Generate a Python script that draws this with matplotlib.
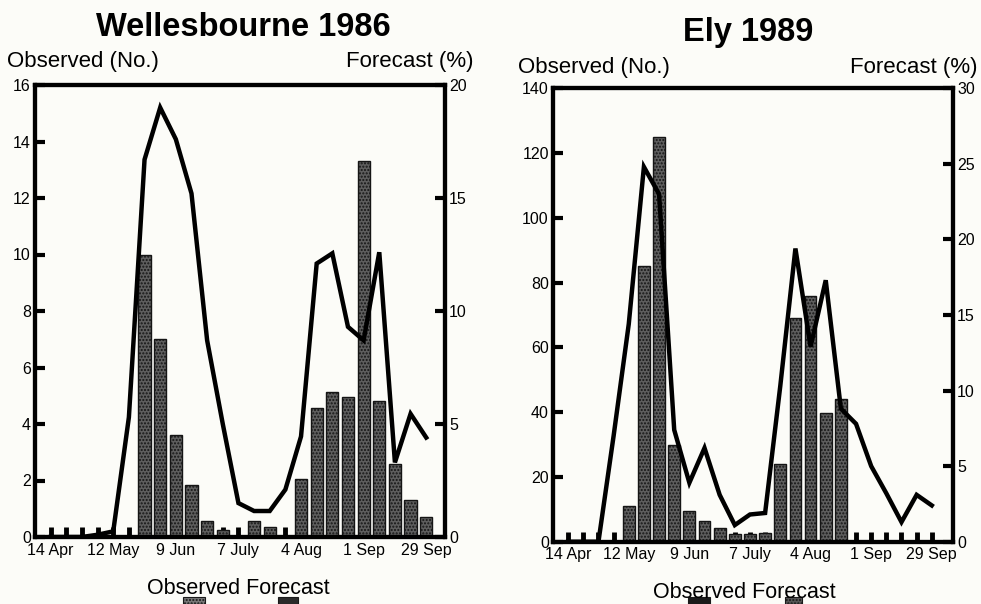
import numpy as np
import matplotlib
matplotlib.use("Agg")
import matplotlib.pyplot as plt
from matplotlib.patches import Rectangle

# weekly dates, 14 Apr .. 29 Sep (25 weeks)
weeks = np.arange(25)
tick_pos = [0, 4, 8, 12, 16, 20, 24]
tick_labels = ["14 Apr", "12 May", "9 Jun", "7 July", "4 Aug", "1 Sep", "29 Sep"]

# Wellesbourne 1986
well_observed = [0, 0, 0, 0, 0, 0, 10, 7, 3.6, 1.85, 0.55, 0.26, 0, 0.55, 0.35,
                 0, 2.05, 4.55, 5.15, 4.95, 13.3, 4.8, 2.6, 1.3, 0.7]
well_forecast = [0, 0, 0, 0.1, 0.25, 5.3, 16.7, 19.0, 17.6, 15.2, 8.7, 5.0, 1.5,
                 1.15, 1.15, 2.1, 4.45, 12.1, 12.55, 9.3, 8.7, 12.6, 3.3, 5.45, 4.4]

# Ely 1989
ely_observed = [0, 0, 0, 0, 11, 85, 125, 30, 9.6, 6.4, 4.3, 2.4, 2.4, 2.6, 24,
                69, 76, 39.6, 44, 0, 0, 0, 0, 0, 0]
ely_forecast = [0, 0, 0, 7.0, 14.4, 24.8, 23.0, 7.4, 3.9, 6.2, 3.1, 1.1, 1.8, 1.9,
                10.3, 19.4, 12.9, 17.3, 8.8, 7.8, 5.0, 3.2, 1.3, 3.1, 2.4]

plt.rcParams['font.family'] = ['Liberation Sans', 'DejaVu Sans']
bg = '#fcfcf8'

fig = plt.figure(figsize=(9.81, 6.04), dpi=100, facecolor=bg)


def panel(rect, observed, forecast, ymax_obs, obs_ticks, ymax_fc, fc_ticks, xlim):
    ax = fig.add_axes(rect)
    ax.set_facecolor(bg)
    ax.bar(weeks, observed, width=0.78, color='#5e5e5e', edgecolor='#151515',
           hatch='.....', linewidth=1.0, zorder=2)
    ax.set_xlim(*xlim)
    ax.set_ylim(0, ymax_obs)
    ax.set_yticks(obs_ticks)
    ax.set_xticks(tick_pos)
    ax.set_xticklabels(tick_labels)
    ax.set_xticks(weeks, minor=True)
    ax.tick_params(axis='x', which='both', direction='in', length=7, width=3.5,
                   top=False, labelsize=11.5, pad=4)
    ax.tick_params(axis='y', direction='in', length=7, width=3, labelsize=11.5, pad=3)

    ax2 = ax.twinx()
    ax2.plot(weeks, forecast, color='black', linewidth=3.2, solid_joinstyle='miter', zorder=3)
    ax2.set_ylim(0, ymax_fc)
    ax2.set_yticks(fc_ticks)
    ax2.tick_params(axis='y', direction='in', length=7, width=3, labelsize=11.5, pad=3)
    for a in (ax, ax2):
        for s in a.spines.values():
            s.set_linewidth(3)
    return ax, ax2


panel([35 / 981, 67 / 604, 410 / 981, 452 / 604], well_observed, well_forecast,
      16, np.arange(0, 17, 2), 20, [0, 5, 10, 15, 20], (-1.0, 25.2))
panel([553 / 981, 62.3 / 604, 400 / 981, 453.4 / 604], ely_observed, ely_forecast,
      140, np.arange(0, 141, 20), 30, [0, 5, 10, 15, 20, 25, 30], (-1.0, 25.4))

# titles and axis captions
fig.text(243 / 981, 1 - 27 / 604, "Wellesbourne 1986", ha='center', va='center',
         fontsize=23.5, fontweight='bold')
fig.text(748 / 981, 1 - 32 / 604, "Ely 1989", ha='center', va='center',
         fontsize=23.5, fontweight='bold')
fig.text(7 / 981, 1 - 62 / 604, "Observed (No.)", ha='left', va='center', fontsize=16)
fig.text(473 / 981, 1 - 62 / 604, "Forecast (%)", ha='right', va='center', fontsize=16)
fig.text(518 / 981, 1 - 67 / 604, "Observed (No.)", ha='left', va='center', fontsize=16)
fig.text(977 / 981, 1 - 67 / 604, "Forecast (%)", ha='right', va='center', fontsize=16)

# legend text with swatches cut off at the bottom edge
fig.text(238 / 981, 1 - 589 / 604, "Observed Forecast", ha='center', va='center', fontsize=15.5)
fig.text(744 / 981, 1 - 592 / 604, "Observed Forecast", ha='center', va='center', fontsize=15.5)
for x0, x1, col, h in [(183, 205, '#777777', '.....'), (278, 298, '#2a2a2a', None),
                       (688, 710, '#1a1a1a', None), (785, 802, '#555555', '.....')]:
    fig.patches.append(Rectangle((x0 / 981, 0), (x1 - x0) / 981, 7 / 604,
                                 transform=fig.transFigure, facecolor=col,
                                 edgecolor='#1a1a1a', hatch=h, linewidth=0.8))

fig.savefig("out.png", dpi=100, facecolor=bg)
